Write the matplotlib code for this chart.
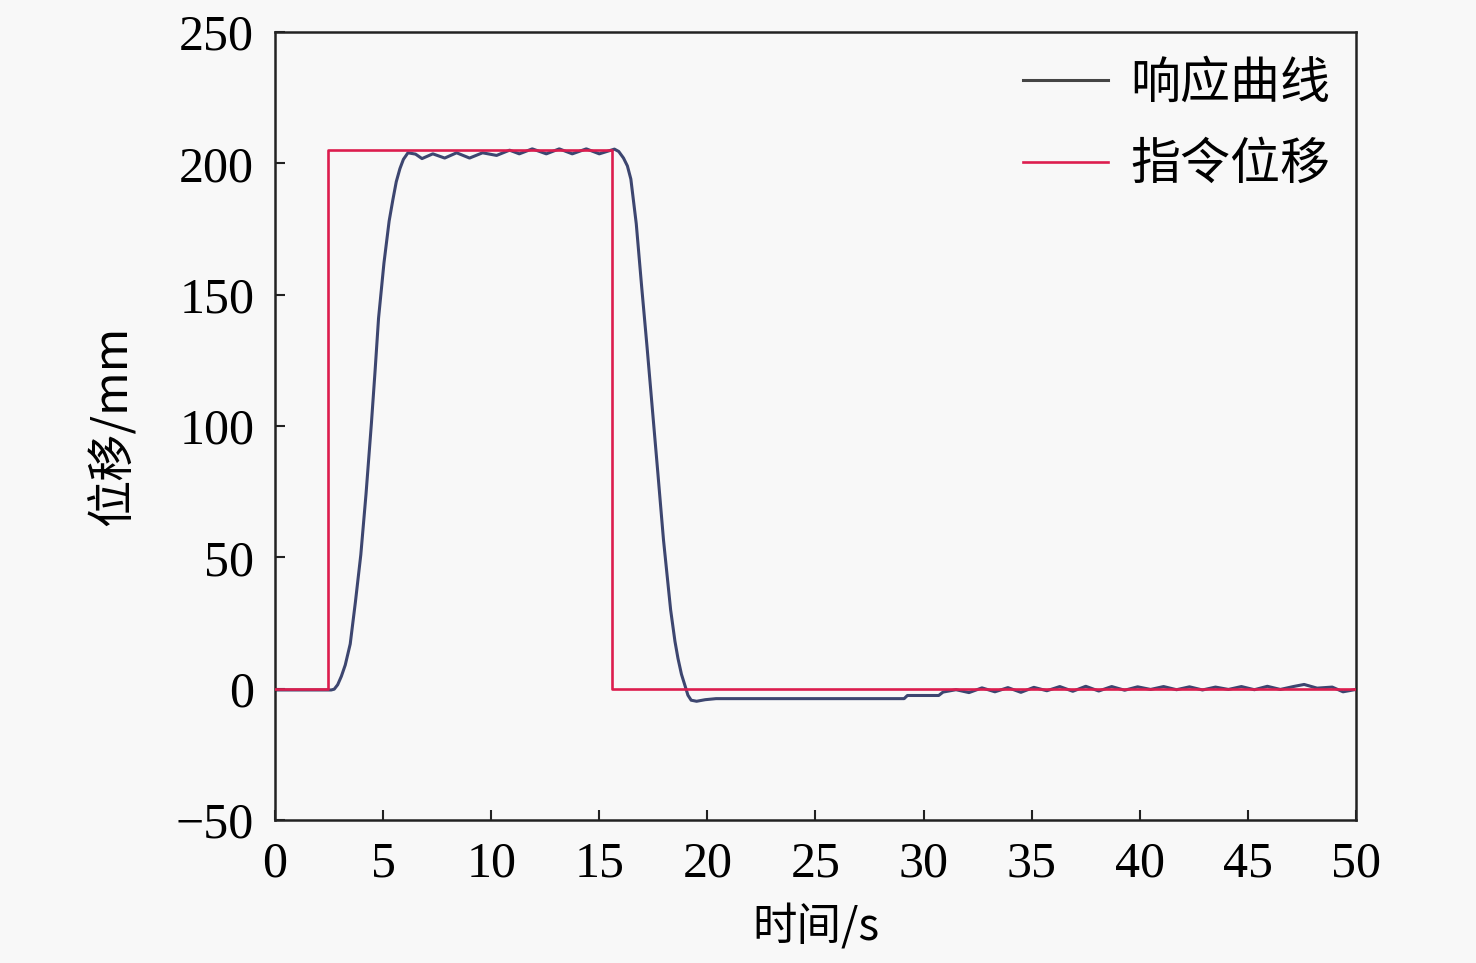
import matplotlib
matplotlib.use("Agg")
import matplotlib.pyplot as plt

# ---------------- data ----------------
cmd_t = [0, 2.45, 2.45, 15.6, 15.6, 50]
cmd_v = [0, 0, 205, 205, 0, 0]

resp_t = [0, 2.6, 2.74, 2.9, 3.07, 3.25, 3.48, 3.72, 3.97, 4.21, 4.46, 4.63, 4.79, 5.04,
          5.28, 5.45, 5.61, 5.78, 5.94,
          6.15, 6.5, 6.8, 7.3, 7.85, 8.4, 9.0, 9.6, 10.25, 10.85, 11.3, 11.9, 12.55, 13.15,
          13.75, 14.4, 15.0, 15.7, 15.9, 16.12, 16.3, 16.46, 16.71, 16.96, 17.21, 17.47,
          17.71, 17.97, 18.30, 18.5, 18.64, 18.8, 18.97, 19.1, 19.25, 19.5, 19.9, 20.4,
          29.1, 29.25, 30.7, 30.9, 31.5,
          32.1, 32.7, 33.3, 33.9, 34.5, 35.1, 35.7, 36.3, 36.9, 37.5, 38.1, 38.7, 39.3,
          39.9, 40.5, 41.1, 41.7, 42.3, 42.9, 43.5, 44.1, 44.7, 45.3, 45.9, 46.5, 47.1,
          47.6, 48.2, 48.9, 49.4, 50.0]
resp_v = [-0.5, -0.5, -0.2, 1.5, 4.7, 9.0, 17, 33, 51, 74, 101, 121, 141, 162,
          178, 186, 193, 198, 201.5,
          204, 203.5, 201.8, 203.6, 202, 204, 202, 204, 203, 205, 203.6, 205.5, 203.6, 205.5,
          203.6, 205.5, 203.6, 205.4, 204.5, 202, 199, 194, 177, 153, 130, 105,
          82, 56.6, 30, 18, 11.5, 5.5, 1.0, -2.5, -4.4, -4.8, -4.2, -3.8,
          -3.8, -2.6, -2.6, -1.3, -0.4,
          -1.5, 0.3, -1.2, 0.4, -1.4, 0.5, -0.8, 0.8, -1.0, 0.9, -0.9, 0.8, -0.6,
          0.7, -0.3, 0.8, -0.4, 0.7, -0.5, 0.6, -0.3, 0.8, -0.4, 0.9, -0.3, 0.8,
          1.6, 0.2, 0.6, -1.2, -0.3]

x_ticks = [0, 5, 10, 15, 20, 25, 30, 35, 40, 45, 50]
y_ticks = [-50, 0, 50, 100, 150, 200, 250]
x_label = "时间/s"
y_label = "位移/mm"
legend_labels = ["响应曲线", "指令位移"]

# ---------------- style ----------------
bg = "#f8f8f8"
cjk = ["Noto Sans CJK SC", "DejaVu Sans"]
serif = ["Liberation Serif", "DejaVu Serif"]

fig = plt.figure(figsize=(14.76, 9.63), dpi=100, facecolor=bg)
ax = fig.add_axes([0.1863, 0.1485, 0.7324, 0.8183], facecolor=bg)

ax.plot(resp_t, resp_v, color="#3d4670", lw=2.2, label=legend_labels[0], zorder=2)
ax.plot(cmd_t, cmd_v, color="#dc1d4e", lw=1.9, label=legend_labels[1], zorder=3)

ax.set_xlim(0, 50)
ax.set_ylim(-50, 250)
ax.set_xticks(x_ticks)
ax.set_yticks(y_ticks)
ax.set_xticklabels([str(v) for v in x_ticks], family=serif, fontsize=36)
ax.set_yticklabels([str(v).replace("-", "\u2212") for v in y_ticks], family=serif, fontsize=36)
ax.tick_params(direction="in", length=7, width=1.5, color="#222222")
ax.tick_params(axis="y", pad=15)
ax.tick_params(axis="x", pad=15)
for s in ax.spines.values():
    s.set_linewidth(1.8)
    s.set_color("#222222")

ax.set_xlabel(x_label, family=cjk, fontsize=32, labelpad=12)
ax.set_ylabel(y_label, family=cjk, fontsize=34, labelpad=28)

leg = ax.legend(loc="upper right", frameon=False, prop={"family": cjk, "size": 36},
                handlelength=1.7, handletextpad=0.45, labelspacing=0.6,
                borderaxespad=0.2, bbox_to_anchor=(1.004, 1.006))
leg.get_lines()[0].set_color("#454545")

fig.savefig("out.png", dpi=100, facecolor=bg)
